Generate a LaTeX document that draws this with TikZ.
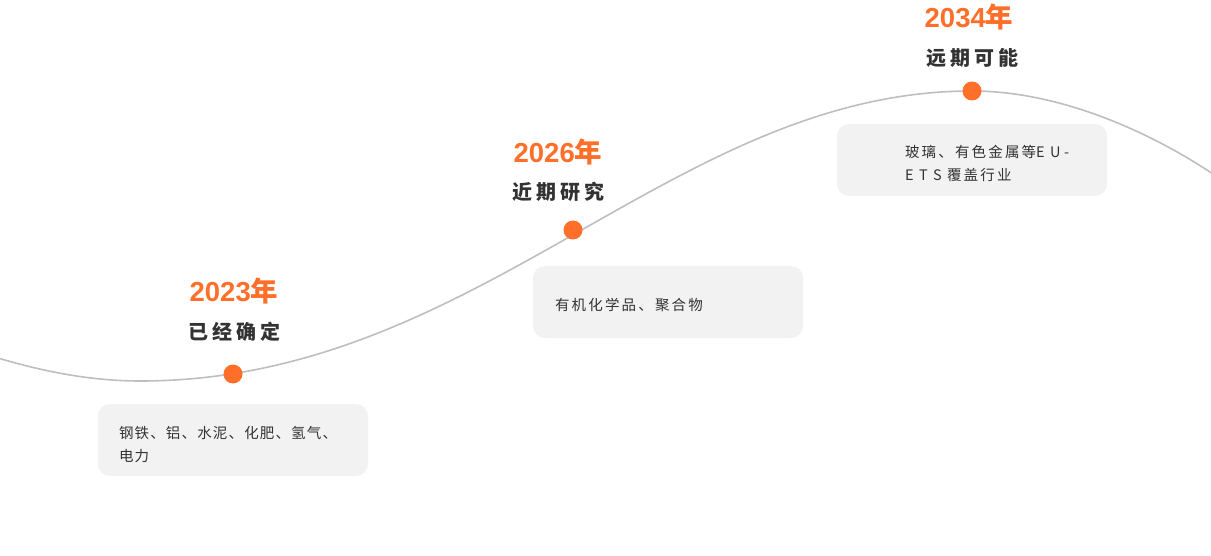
\documentclass[tikz,border=0pt]{standalone}
\usepackage{fontspec}
\setmainfont{Liberation Sans}
\newfontfamily\cjk[LetterSpace=8]{Noto Sans CJK SC}
\newfontfamily\cjkwide[LetterSpace=15]{Noto Sans CJK SC}
\newfontfamily\cjkhead[LetterSpace=20]{Noto Sans CJK SC}
\newfontfamily\cjkyear{Noto Sans CJK SC}
\usetikzlibrary{calc,positioning}
\definecolor{tlorange}{RGB}{255,111,41}
\definecolor{tlgrey}{RGB}{190,190,190}
\definecolor{tltext}{RGB}{51,51,51}
\definecolor{tlbox}{RGB}{242,242,242}
\tikzset{
  stagedot/.style={circle,fill=tlorange,minimum size=19pt,inner sep=0pt},
  yearlabel/.style={text=tlorange,font=\fontsize{27.5}{27.5}\selectfont\bfseries,inner sep=0pt},
  stagelabel/.style={text=tltext,font=\cjkhead\fontsize{20}{20}\selectfont\bfseries,inner sep=0pt},
  infobox/.style={fill=tlbox,rounded corners=12pt,minimum width=270pt,minimum height=72pt,inner sep=0pt},
  infotext/.style={text=tltext,font=\cjk\fontsize{14.5}{23}\selectfont,align=left,inner sep=0pt,anchor=west},
  widetext/.style={infotext,font=\cjkwide\fontsize{14.5}{23}\selectfont}
}
\newcommand{\stagemark}[7]{%
  \node[stagedot] (#1) at (#2,#3) {};
  \node[yearlabel] (#1-year) at (#4) {#6{\cjkyear\bfseries 年}};
  \node[stagelabel] (#1-label) at (#5) {#7\kern-4pt};
}
\newcommand{\wl}[1]{\makebox[14pt][l]{#1}}

\begin{document}
\begin{tikzpicture}[x=1pt,y=-1pt]
  \path[use as bounding box] (0,0) rectangle (1211,556);
  % timeline curve
  \coordinate (start) at (-2,358);
  \coordinate (low) at (140,381);
  \coordinate (high) at (972,91);
  \coordinate (end) at (1213,174);
  \draw[tlgrey,line width=1.6pt] (start) .. controls (48,373) and (95,381) .. (low)
    .. controls (480,381) and (672,91) .. (high)
    .. controls (1060,91) and (1150,132) .. (end);
  % info boxes
  \node[infobox] (box2023) at (233,440) {};
  \node[infobox] (box2026) at (668,302) {};
  \node[infobox] (box2034) at (972,160) {};
  \node[infotext] (text2023) at ([xshift=21pt,yshift=-4pt]box2023.west)
    {钢铁、铝、水泥、化肥、氢气、\\电力};
  \node[widetext] (text2026) at ([xshift=22pt,yshift=-3pt]box2026.west)
    {有机化学品、聚合物};
  \node[widetext] (text2034) at ([xshift=68pt,yshift=-3pt]box2034.west)
    {玻璃、有色金属等\wl{E}\wl{U}-\\\wl{E}\wl{T}\wl{S}覆盖行业};
  % milestones
  \stagemark{s2023}{233}{374}{234,291}{232,332}{2023}{已经确定}
  \stagemark{s2026}{573}{230}{558,152}{556,192}{2026}{近期研究}
  \stagemark{s2034}{972}{91}{969,17}{970,58}{2034}{远期可能}
\end{tikzpicture}
\end{document}
